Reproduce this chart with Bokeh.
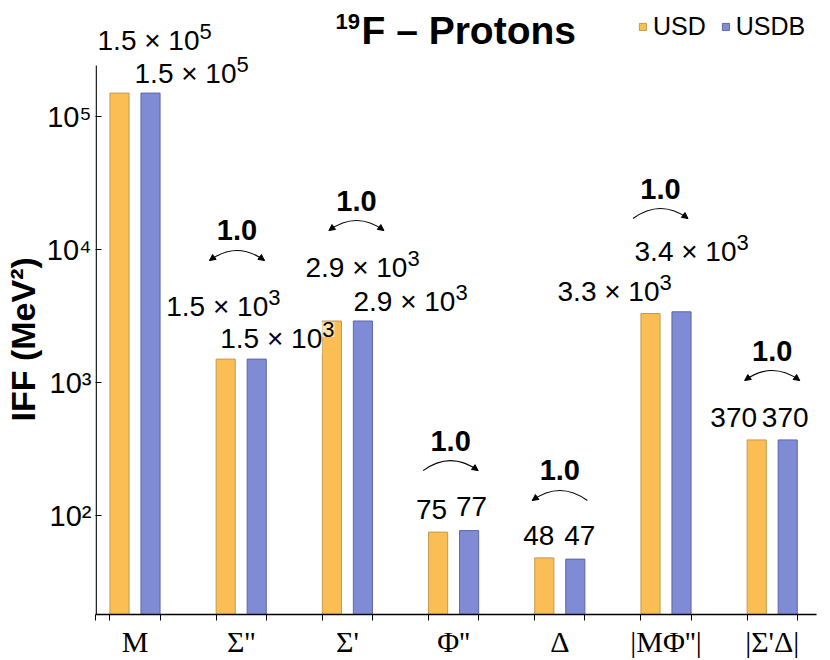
import math
from bokeh.plotting import figure
from bokeh.models import (FixedTicker, Label, Legend, LegendItem, Title,
                          Range1d, Arrow, NormalHead)
from bokeh.embed import file_html
from bokeh.resources import INLINE

# ---------------- data ----------------
categories = ["M", "Σ''", "Σ'", "Φ''", "Δ", "|MΦ''|", "|Σ'Δ|"]
usd = [1.5e5, 1.5e3, 2.9e3, 75, 48, 3.3e3, 370]
usdb = [1.5e5, 1.5e3, 2.9e3, 77, 47, 3.4e3, 370]
y_ticks = [1e2, 1e3, 1e4, 1e5]
y_tick_labels = ["10²", "10³", "10⁴", "10⁵"]
series_names = ["USD", "USDB"]
title_sup = "19"
title_main = "F – Protons"
y_title = "IFF (MeV²)"

# ---------------- layout / style ----------------
ORANGE, ORANGE_LINE = "#FABE55", "#C39A4E"
BLUE, BLUE_LINE = "#7F8BD4", "#5D67A8"
FONT = "Liberation Sans"
LEFT, TOP = 95, 0            # frame position on the page (px)
FRAME_W, FRAME_H = 721, 614
AXIS_TOP_PX = 65             # where the drawn y axis line starts (page px)
Y100_PX, PPD = 515, 133.0    # page y of 10^2 and px per decade
XLO, XHI = -0.372, 6.417
PPX = FRAME_W / (XHI - XLO)
YLO = 10 ** (2 - (TOP + FRAME_H - Y100_PX) / PPD)
YHI = 10 ** (2 + (Y100_PX - TOP) / PPD)
BAR_OFF, BAR_W = 0.146, 0.18

# label offsets (px) from group centre / bar top
usd_lab_dx = [19.5, -18, 15, -22, -21, -51.5, -38.5]
usd_lab_up = [52.6, 52.6, 53.5, 22.6, 22.4, 22, 22]
usdb_lab_dx = [56.5, 36, 63, 18, 20, 25.5, 13]
usdb_lab_up = [19.6, 20.6, 19.5, 24, 23.6, 60, 22]
arc_dx = [0, -4.2, 9, -3, 0, -5.5, 0]
arc_up = [0, 98.6, 90.5, 60, 57.4, 93.3, 59.4]
ARC_HALF, ARC_RISE = 27.5, 20


def up(v, px):
    return 10 ** (math.log10(v) + px / PPD)


def px_x(px):
    return XLO + (px - LEFT) / PPX


def px_y(py):
    return 10 ** (2 + (Y100_PX - py) / PPD)


def split(v):
    if v >= 1000:
        e = int(math.floor(math.log10(v)))
        return f"{v / 10 ** e:.1f} × 10", str(e)
    return f"{v:g}", None


xs = list(range(len(categories)))

p = figure(frame_width=FRAME_W, frame_height=FRAME_H, y_axis_type="log",
           x_range=Range1d(XLO, XHI), y_range=Range1d(YLO, YHI),
           output_backend="svg", toolbar_location=None,
           min_border_left=LEFT, min_border_top=TOP, min_border_right=6,
           min_border_bottom=44)
p.outline_line_color = None
p.grid.visible = False
p.background_fill_color = "white"

xs_o = [x - BAR_OFF for x in xs]
xs_b = [x + BAR_OFF for x in xs]
r1 = p.vbar(x=xs_o, top=usd, bottom=YLO, width=BAR_W,
            fill_color=ORANGE, line_color=ORANGE_LINE, line_width=1)
r2 = p.vbar(x=xs_b, top=usdb, bottom=YLO, width=BAR_W,
            fill_color=BLUE, line_color=BLUE_LINE, line_width=1)

# x axis
xa = p.xaxis[0]
edges = [XLO] + [e for x in xs for e in (x - BAR_OFF - BAR_W / 2, x + BAR_OFF + BAR_W / 2)]
xa.ticker = FixedTicker(ticks=xs, minor_ticks=edges)
xa.major_label_overrides = {i: c for i, c in enumerate(categories)}
xa.major_tick_line_color = None
xa.major_tick_out = 0
xa.minor_tick_out = 6
xa.minor_tick_in = 0
xa.minor_tick_line_color = "black"
xa.axis_line_color = "black"
xa.axis_line_width = 1.3
xa.major_label_text_font = "Liberation Serif"
xa.major_label_text_font_size = "30px"
xa.major_label_text_color = "black"
xa.major_label_standoff = 4

# y axis (line drawn only up to AXIS_TOP_PX)
ya = p.yaxis[0]
ya.ticker = FixedTicker(ticks=y_ticks, minor_ticks=[])
ya.major_label_overrides = {t: l for t, l in zip(y_ticks, y_tick_labels)}
ya.major_tick_in = 6
ya.major_tick_out = 0
ya.major_tick_line_color = "black"
ya.minor_tick_line_color = None
ya.axis_line_color = None
ya.major_label_text_font = FONT
ya.major_label_text_font_size = "29px"
ya.major_label_text_color = "black"
ya.major_label_standoff = 4
p.segment(x0=[XLO + 0.7 / PPX], y0=[YLO], x1=[XLO + 0.7 / PPX], y1=[px_y(AXIS_TOP_PX)],
          line_color="black", line_width=1.3)

p.add_layout(Title(text=y_title, align="left", offset=FRAME_H - 421, standoff=0,
                   vertical_align="top", text_font=FONT, text_font_size="34px",
                   text_font_style="bold", text_color="black"), "left")

# value labels (superscript exponent as its own smaller text)
BASE_HALF = 45
for k in xs:
    for v, dx, dyu in ((usd[k], usd_lab_dx[k], usd_lab_up[k]),
                       (usdb[k], usdb_lab_dx[k], usdb_lab_up[k])):
        base, ex = split(v)
        common = dict(text_baseline="middle", text_font=FONT, text_color="black",
                      background_fill_color="white", background_fill_alpha=0.55)
        if ex is None:
            p.add_layout(Label(x=k, y=v, x_offset=dx, y_offset=dyu, text=base,
                               text_align="center", text_font_size="28px", **common))
        else:
            p.add_layout(Label(x=k, y=v, x_offset=dx + BASE_HALF, y_offset=dyu, text=base,
                               text_align="right", text_font_size="28px", **common))
            p.add_layout(Label(x=k, y=v, x_offset=dx + BASE_HALF, y_offset=dyu + 9, text=ex,
                               text_align="left", text_font_size="22px", **common))

# ratio arcs
qx0, qy0, qx1, qy1, qcx, qcy = [], [], [], [], [], []
for k in xs[1:]:
    a, b = usd[k], usdb[k]
    top = max(a, b)
    cxk = k + arc_dx[k] / PPX
    yend = up(top, arc_up[k])
    x0 = cxk - ARC_HALF / PPX
    x1 = cxk + ARC_HALF / PPX
    qx0.append(x0); qy0.append(yend); qx1.append(x1); qy1.append(yend)
    qcx.append(cxk); qcy.append(up(top, arc_up[k] + ARC_RISE))
    p.add_layout(Label(x=cxk, y=yend, y_offset=30, text=f"{b / a:.1f}",
                       text_align="center", text_baseline="middle",
                       text_font=FONT, text_font_size="29px",
                       text_font_style="bold", text_color="black"))
    L = math.hypot(ARC_HALF, ARC_RISE)
    back = 3.0
    heads = []
    if b >= a:
        heads.append((x1, yend, x1 - back * ARC_HALF / L / PPX, up(yend, back * ARC_RISE / L)))
    if b <= a:
        heads.append((x0, yend, x0 + back * ARC_HALF / L / PPX, up(yend, back * ARC_RISE / L)))
    for xe, ye, xs_, ys_ in heads:
        p.add_layout(Arrow(end=NormalHead(size=6, fill_color="black", line_color="black",
                                          line_width=1),
                           x_start=xs_, y_start=ys_, x_end=xe, y_end=ye,
                           line_color="black", line_width=1))
p.quadratic(x0=qx0, y0=qy0, x1=qx1, y1=qy1, cx=qcx, cy=qcy,
            line_color="black", line_width=1.1)

# title
p.add_layout(Label(x=px_x(361), y=px_y(30), text=title_main,
                   text_align="left", text_baseline="middle",
                   text_font=FONT, text_font_size="39px",
                   text_font_style="bold", text_color="black"))
p.add_layout(Label(x=px_x(335), y=px_y(21), text=title_sup,
                   text_align="left", text_baseline="middle",
                   text_font=FONT, text_font_size="22px",
                   text_font_style="bold", text_color="black"))

legend = Legend(items=[LegendItem(label=series_names[0], renderers=[r1]),
                       LegendItem(label=series_names[1], renderers=[r2])],
                orientation="horizontal", location=(543, FRAME_H - 41),
                glyph_width=9, glyph_height=9, label_standoff=6, spacing=15,
                padding=0, margin=0, border_line_color=None,
                background_fill_alpha=0,
                label_text_font=FONT, label_text_font_size="25px",
                label_text_color="black")
p.add_layout(legend)

open("out.html", "w").write(file_html(p, INLINE))
